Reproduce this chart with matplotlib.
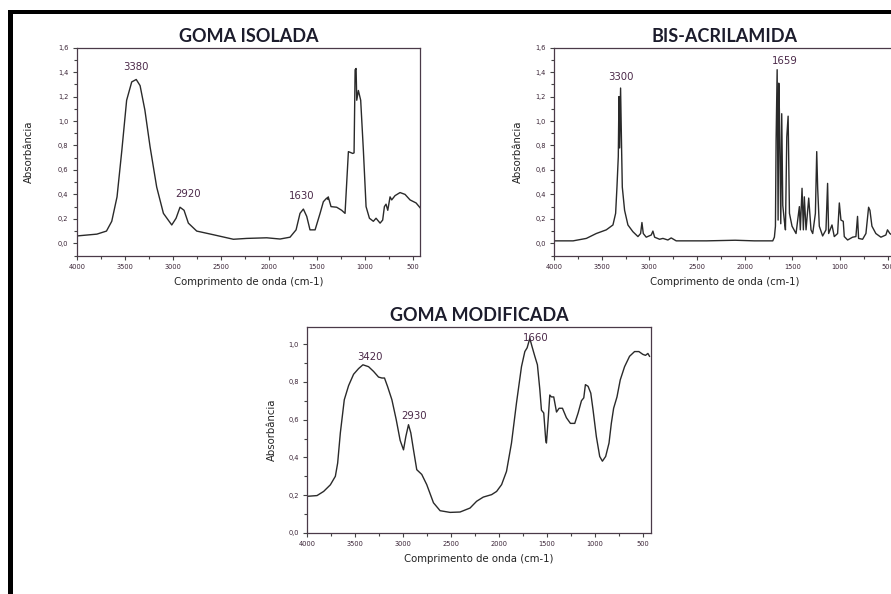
import matplotlib.pyplot as plt
from matplotlib.patches import Rectangle
from matplotlib.ticker import MultipleLocator, FuncFormatter

# ---- dados (numero de onda cm-1, absorbancia) ----
goma_wn = [4000, 3790, 3690, 3635, 3580, 3530, 3480, 3427, 3380, 3340, 3290, 3236,
           3167, 3097, 3010, 2965, 2924, 2882, 2837, 2750, 2576, 2368, 2229, 2021,
           1882, 1778, 1715, 1674, 1639, 1604, 1570, 1517, 1465, 1431, 1396, 1385,
           1380, 1351, 1292, 1240, 1205, 1170, 1125, 1111, 1100, 1090, 1083, 1066,
           1042, 1014, 986, 951, 910, 882, 840, 813, 795, 778, 760, 736, 719, 684,
           632, 580, 528, 465, 417]
goma_abs = [0.06, 0.075, 0.10, 0.18, 0.38, 0.76, 1.17, 1.32, 1.34, 1.29, 1.09, 0.79,
            0.46, 0.245, 0.15, 0.205, 0.295, 0.27, 0.165, 0.10, 0.07, 0.033, 0.04, 0.045,
            0.035, 0.05, 0.11, 0.245, 0.28, 0.22, 0.11, 0.11, 0.245, 0.34, 0.37, 0.36,
            0.38, 0.30, 0.295, 0.27, 0.245, 0.75, 0.735, 0.74, 1.42, 1.43, 1.17, 1.25,
            1.17, 0.76, 0.30, 0.205, 0.18, 0.205, 0.165, 0.19, 0.30, 0.32, 0.27, 0.38, 0.355, 0.39,
            0.415, 0.40, 0.355, 0.33, 0.285]

bis_wn = [4000, 3800, 3661, 3557, 3452, 3382, 3354, 3340, 3326, 3319, 3312, 3302,
          3291, 3284, 3260, 3225, 3173, 3120, 3092, 3078, 3064, 3033, 2980, 2963,
          2945, 2893, 2858, 2806, 2771, 2719, 2400, 2100, 1900, 1706, 1689, 1678,
          1671, 1660, 1650, 1643, 1636, 1622, 1612, 1601, 1584, 1573, 1559, 1545,
          1531, 1504, 1462, 1427, 1417, 1399, 1385, 1375, 1357, 1329, 1305, 1287,
          1259, 1245, 1235, 1218, 1183, 1148, 1131, 1120, 1085, 1061, 1026, 1008,
          991, 967, 956, 921, 869, 834, 817, 806, 764, 729, 701, 687, 666, 625,
          572, 520, 503, 478, 440]
bis_abs = [0.02, 0.02, 0.04, 0.08, 0.11, 0.15, 0.245, 0.46, 0.71, 1.2, 0.78, 1.27,
           0.76, 0.46, 0.27, 0.15, 0.095, 0.055, 0.08, 0.17, 0.08, 0.05, 0.068, 0.10,
           0.05, 0.033, 0.04, 0.027, 0.044, 0.02, 0.02, 0.025, 0.02, 0.02, 0.05, 0.14,
           0.85, 1.42, 0.19, 1.31, 1.06, 0.16, 1.06, 0.31, 0.18, 0.11, 0.87, 1.04,
           0.245, 0.14, 0.08, 0.30, 0.11, 0.45, 0.11, 0.38, 0.11, 0.37, 0.11, 0.08,
           0.245, 0.75, 0.45, 0.14, 0.06, 0.11, 0.49, 0.08, 0.15, 0.055, 0.08, 0.33,
           0.19, 0.18, 0.055, 0.027, 0.05, 0.055, 0.22, 0.04, 0.033, 0.08, 0.295, 0.27,
           0.14, 0.08, 0.05, 0.068, 0.11, 0.08, 0.06]

mod_wn = [4000, 3896, 3827, 3757, 3705, 3681, 3653, 3612, 3567, 3515, 3463, 3418,
          3359, 3307, 3255, 3220, 3193, 3161, 3116, 3071, 3030, 2995, 2971, 2943,
          2919, 2891, 2857, 2805, 2753, 2683, 2614, 2510, 2406, 2302, 2233, 2164,
          2077, 2025, 1973, 1922, 1870, 1818, 1766, 1731, 1707, 1679, 1658, 1627,
          1600, 1575, 1558, 1534, 1513, 1506, 1488, 1471, 1454, 1430, 1401, 1374,
          1339, 1298, 1256, 1211, 1176, 1141, 1117, 1100, 1072, 1044, 1020, 986,
          951, 923, 889, 854, 830, 806, 771, 737, 692, 640, 588, 543, 501, 474, 449, 432]
mod_abs = [0.194, 0.198, 0.22, 0.255, 0.30, 0.37, 0.53, 0.705, 0.78, 0.84, 0.87, 0.89,
           0.88, 0.855, 0.825, 0.82, 0.82, 0.775, 0.705, 0.60, 0.49, 0.44, 0.51, 0.573,
           0.53, 0.44, 0.335, 0.31, 0.256, 0.16, 0.118, 0.109, 0.111, 0.132, 0.168, 0.19,
           0.203, 0.22, 0.256, 0.326, 0.476, 0.688, 0.88, 0.96, 0.98, 1.03, 0.99, 0.935,
           0.89, 0.76, 0.65, 0.635, 0.49, 0.476, 0.60, 0.73, 0.72, 0.72, 0.64, 0.66,
           0.66, 0.61, 0.58, 0.58, 0.635, 0.70, 0.715, 0.785, 0.776, 0.74, 0.65, 0.51,
           0.405, 0.38, 0.405, 0.476, 0.58, 0.66, 0.72, 0.81, 0.88, 0.935, 0.96, 0.96, 0.945, 0.94, 0.95, 0.935]

# rotulos dos picos: (texto, x, y)
goma_picos = [("3380", 3380, 1.40), ("2920", 2840, 0.36), ("1630", 1653, 0.345)]
bis_picos = [("3300", 3295, 1.32), ("1659", 1575, 1.45)]
mod_picos = [("3420", 3340, 0.905), ("2930", 2880, 0.59), ("1660", 1620, 1.005)]

LINE = '#2a2a2a'
LAB = '#4a2848'


def virgula(v, pos):
    return ("%.1f" % v).replace('.', ',')


def painel(ax, wn, ab, picos, titulo, xmax, ylim, ypad):
    ax.plot(wn, ab, color=LINE, lw=1.0)
    ax.set_xlim(4000, xmax)
    ax.set_ylim(*ylim)
    ax.xaxis.set_major_locator(MultipleLocator(500))
    ax.xaxis.set_minor_locator(MultipleLocator(250))
    ax.yaxis.set_major_locator(MultipleLocator(0.2))
    ax.yaxis.set_minor_locator(MultipleLocator(0.1))
    ax.yaxis.set_major_formatter(FuncFormatter(virgula))
    ax.tick_params(which='both', direction='out', labelsize=4.8, colors='#444444',
                   labelcolor='#3a2436', width=0.8)
    ax.tick_params(which='major', length=3, pad=3)
    ax.tick_params(which='minor', length=2)
    for s in ax.spines.values():
        s.set_color('#4a3a48')
        s.set_linewidth(0.9)
    ax.set_xlabel('Comprimento de onda (cm-1)', fontsize=7.3, color='#222222', labelpad=5)
    ax.set_ylabel('Absorbância', fontsize=7.3, color='#222222', labelpad=ypad)
    ax.set_title(titulo, fontsize=13, fontweight='bold', family='Lato', color='#1c1c2c', pad=4)
    for txt, x, y in picos:
        ax.text(x, y, txt, fontsize=7.3, color=LAB, ha='center', va='bottom')


fig = plt.figure(figsize=(8.91, 5.94), dpi=100)

ax1 = fig.add_axes([0.0861, 0.569, 0.3853, 0.3507])
painel(ax1, goma_wn, goma_abs, goma_picos, 'GOMA ISOLADA', 424, (-0.104, 1.6), 17)

ax2 = fig.add_axes([0.6218, 0.569, 0.3827, 0.3507])
painel(ax2, bis_wn, bis_abs, bis_picos, 'BIS-ACRILAMIDA', 424, (-0.104, 1.6), 9)

ax3 = fig.add_axes([0.3446, 0.1027, 0.386, 0.3468])
painel(ax3, mod_wn, mod_abs, mod_picos, 'GOMA MODIFICADA', 417, (0, 1.09), 8)

# moldura preta (so topo e lado esquerdo visiveis)
fig.add_artist(Rectangle((8 / 891, 1 - 14 / 594), 1, 4.5 / 594, transform=fig.transFigure,
                         color='black', lw=0))
fig.add_artist(Rectangle((8 / 891, 0), 5 / 891, 1 - 10 / 594, transform=fig.transFigure,
                         color='black', lw=0))

fig.savefig('out.png', dpi=100)
